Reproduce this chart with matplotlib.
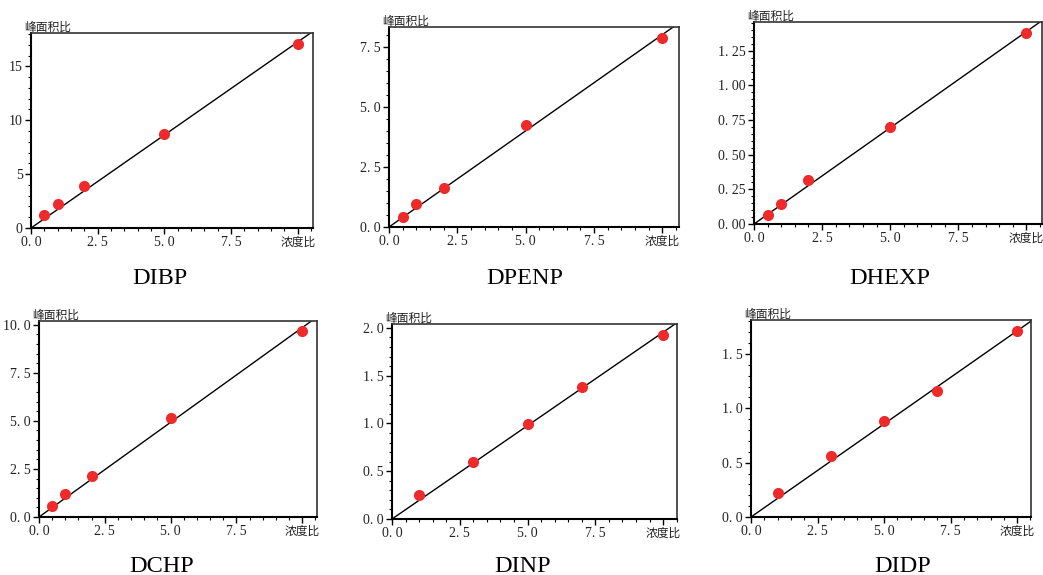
import matplotlib
matplotlib.use("Agg")
import matplotlib.pyplot as plt
import numpy as np
from matplotlib.ticker import MultipleLocator, FixedLocator, FixedFormatter

# ---- data ----
names = ["DIBP", "DPENP", "DHEXP", "DCHP", "DINP", "DIDP"]
x_low = [0.5, 1, 2, 5, 10]
x_high = [1, 3, 5, 7, 10]
y_dibp = [1.18, 2.2, 3.87, 8.68, 17.1]
y_dpenp = [0.40, 0.95, 1.63, 4.25, 7.88]
y_dhexp = [0.068, 0.145, 0.314, 0.697, 1.38]
y_dchp = [0.57, 1.17, 2.14, 5.16, 9.67]
y_dinp = [0.25, 0.60, 0.99, 1.38, 1.93]
y_didp = [0.224, 0.56, 0.88, 1.16, 1.71]

x_ticks = [0, 2.5, 5, 7.5, 10]
x_ticklabels = ["0. 0", "2. 5", "5. 0", "7. 5", "浓度比"]
ylabel = "峰面积比"

yticks_dibp = [0, 5, 10, 15]
yticklabels_dibp = ["0", "5", "10", "15"]
yticks_dpenp = [0, 2.5, 5, 7.5]
yticklabels_dpenp = ["0. 0", "2. 5", "5. 0", "7. 5"]
yticks_dhexp = [0, 0.25, 0.5, 0.75, 1.0, 1.25]
yticklabels_dhexp = ["0. 00", "0. 25", "0. 50", "0. 75", "1. 00", "1. 25"]
yticks_dchp = [0, 2.5, 5, 7.5, 10]
yticklabels_dchp = ["0. 0", "2. 5", "5. 0", "7. 5", "10. 0"]
yticks_dinp = [0, 0.5, 1.0, 1.5, 2.0]
yticklabels_dinp = ["0. 0", "0. 5", "1. 0", "1. 5", "2. 0"]
yticks_didp = [0, 0.5, 1.0, 1.5]
yticklabels_didp = ["0. 0", "0. 5", "1. 0", "1. 5"]

W, H = 1043, 575
fig = plt.figure(figsize=(W / 100, H / 100), dpi=100)

# panel specs: (x data, y data, yticks, yticklabels, ymax, yminor, xmax, box px (l, r, t, b), title pos px (center x, baseline y))
panels = [
    (x_low, y_dibp, yticks_dibp, yticklabels_dibp, 18.1, 1.0, 10.57, (31, 313, 33, 228), (160, 284)),
    (x_low, y_dpenp, yticks_dpenp, yticklabels_dpenp, 8.34, 0.5, 10.61, (389, 679, 27, 227), (525, 284)),
    (x_low, y_dhexp, yticks_dhexp, yticklabels_dhexp, 1.458, 0.05, 10.57, (754, 1042, 22, 224), (890, 284)),
    (x_low, y_dchp, yticks_dchp, yticklabels_dchp, 10.19, 0.5, 10.56, (39, 317, 321, 517), (162, 572)),
    (x_high, y_dinp, yticks_dinp, yticklabels_dinp, 2.04, 0.1, 10.51, (392, 677, 324, 519), (523, 572)),
    (x_high, y_didp, yticks_didp, yticklabels_didp, 1.813, 0.1, 10.52, (751, 1031, 320, 517), (903, 572)),
]

tick_font = ["Liberation Serif", "Noto Sans CJK SC"]

for name, (xs, ys, yt, ytl, ymax, yminor, xmax, box, tpos) in zip(names, panels):
    l, r, t, b = box
    ax = fig.add_axes([l / W, 1 - b / H, (r - l) / W, (b - t) / H])
    xa = np.array(xs, float)
    ya = np.array(ys, float)
    slope = (xa * ya).sum() / (xa * xa).sum()
    ax.plot([0, xmax], [0, slope * xmax], color="black", lw=1.0, zorder=2)
    ax.plot(xa, ya, "o", color="#ee2a2a", markersize=8, markeredgewidth=0, zorder=3)
    ax.set_xlim(0, xmax)
    ax.set_ylim(0, ymax)
    ax.xaxis.set_major_locator(FixedLocator(x_ticks))
    ax.xaxis.set_major_formatter(FixedFormatter(x_ticklabels))
    ax.xaxis.set_minor_locator(MultipleLocator(0.5))
    ax.yaxis.set_major_locator(FixedLocator(yt))
    ax.yaxis.set_major_formatter(FixedFormatter(ytl))
    ax.yaxis.set_minor_locator(MultipleLocator(yminor))
    ax.tick_params(which="major", direction="out", length=4, width=1.0, labelsize=10, pad=2,
                   top=False, right=False)
    ax.tick_params(which="minor", direction="out", length=2.5, width=0.8, top=False, right=False)
    for lab in ax.get_xticklabels() + ax.get_yticklabels():
        lab.set_fontfamily(tick_font)
        lab.set_color("#222222")
    xl = ax.get_xticklabels()
    xl[-1].set_fontsize(8.5)
    for side in ["left", "bottom"]:
        ax.spines[side].set_linewidth(1.5)
    for side in ["top", "right"]:
        ax.spines[side].set_linewidth(1.2)
        ax.spines[side].set_color("#333333")
    ax.annotate(ylabel, xy=(0, 1), xycoords="axes fraction", xytext=(-7, -1),
                textcoords="offset pixels", ha="left", va="bottom", fontsize=8.5,
                family=["Noto Sans CJK SC", "DejaVu Sans"], color="#222222")
    fig.text(tpos[0] / W, 1 - tpos[1] / H, name, ha="center", va="baseline",
             fontsize=17.5, family="Liberation Serif")

fig.savefig("out.png", dpi=100)
